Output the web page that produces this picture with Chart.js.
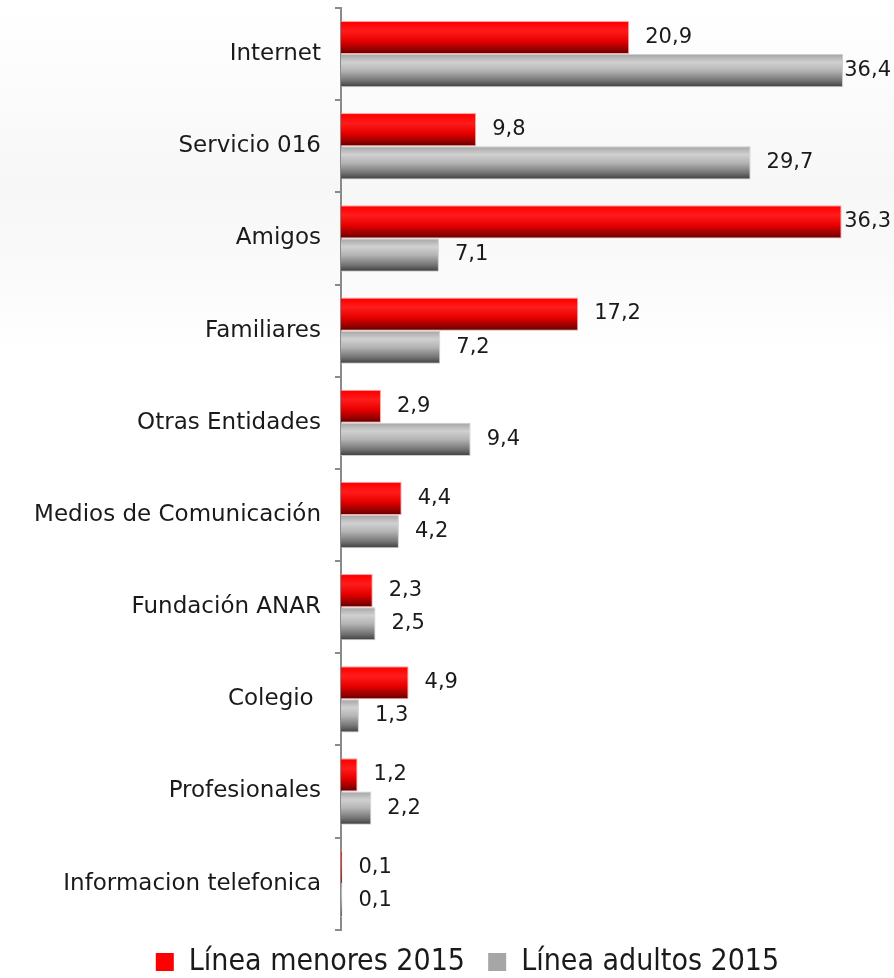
<!DOCTYPE html>
<html><head><meta charset="utf-8">
<script src="https://cdn.jsdelivr.net/npm/chart.js@4/dist/chart.umd.min.js"></script>
<style>html,body{margin:0;padding:0;background:#fff}#wrap{width:894px;height:978px;position:relative}</style>
</head><body><div id="wrap"><canvas id="c" width="894" height="978"></canvas></div>
<script>
const categories = ["Internet","Servicio 016","Amigos","Familiares","Otras Entidades","Medios de Comunicación","Fundación ANAR","Colegio ","Profesionales","Informacion telefonica"];
const menores2015 = [20.9, 9.8, 36.3, 17.2, 2.9, 4.4, 2.3, 4.9, 1.2, 0.1];
const adultos2015 = [36.4, 29.7, 7.1, 7.2, 9.4, 4.2, 2.5, 1.3, 2.2, 0.1];
const seriesNames = ["Línea menores 2015  ","Línea adultos 2015"];
const FONT = "'DejaVu Sans', sans-serif";
const LEGEND_FONT = "'DejaVu Sans Condensed', 'DejaVu Sans', sans-serif";

const bgPlugin = {
  id:'bg',
  beforeDraw(chart){
    const ctx = chart.ctx;
    const g = ctx.createLinearGradient(0,0,0,chart.height);
    g.addColorStop(0,'#ffffff');
    g.addColorStop(0.08,'#fcfcfc');
    g.addColorStop(0.19,'#f7f7f7');
    g.addColorStop(0.30,'#fbfbfb');
    g.addColorStop(0.36,'#ffffff');
    g.addColorStop(1,'#ffffff');
    ctx.save(); ctx.fillStyle = g; ctx.fillRect(0,0,chart.width,chart.height); ctx.restore();
  }
};
const legendShift = {
  id:'legendShift',
  afterLayout(chart){
    const lg = chart.legend;
    if (!lg) return;
    lg.left += 46; lg.right += 46;
    lg.top += 9; lg.bottom += 9;
  }
};
const gradPlugin = {
  id:'grad',
  beforeDatasetsDraw(chart){
    const ctx = chart.ctx;
    chart.data.datasets.forEach((ds,di)=>{
      const meta = chart.getDatasetMeta(di);
      meta.data.forEach(el=>{
        const top = el.y - el.height/2, bot = el.y + el.height/2;
        const g = ctx.createLinearGradient(0,top,0,bot);
        if(di===0){
          g.addColorStop(0,'#ff6060'); g.addColorStop(0.05,'#ff0000'); g.addColorStop(0.3,'#ff1c1c');
          g.addColorStop(0.6,'#e80000'); g.addColorStop(0.85,'#980000'); g.addColorStop(1,'#5a0000');
        } else {
          g.addColorStop(0,'#a4a4a4'); g.addColorStop(0.25,'#d0d0d0'); g.addColorStop(0.5,'#b4b4b4');
          g.addColorStop(0.8,'#747474'); g.addColorStop(1,'#3c3c3c');
        }
        el.options = Object.assign({}, el.options, {backgroundColor:g});
      });
    });
  }
};
const labelPlugin = {
  id:'vlabels',
  afterDatasetsDraw(chart){
    const ctx = chart.ctx;
    ctx.save();
    ctx.font = "21px " + FONT;
    ctx.fillStyle = '#1a1a1a';
    ctx.textBaseline = 'middle';
    ctx.textAlign = 'left';
    chart.data.datasets.forEach((ds,di)=>{
      chart.getDatasetMeta(di).data.forEach((el,i)=>{
        const txt = ds.data[i].toFixed(1).replace('.',',');
        const w = ctx.measureText(txt).width;
        let x = el.x + 16;
        if (x + w > chart.width - 3) x = chart.width - 3 - w;
        ctx.fillText(txt, x, el.y);
      });
    });
    ctx.restore();
  }
};

new Chart(document.getElementById('c'),{
  type:'bar',
  data:{
    labels:categories,
    datasets:[
      {label:seriesNames[0], data:menores2015, backgroundColor:'#ff0000', borderColor:'rgba(255,140,140,0.8)', borderWidth:1, borderSkipped:'start'},
      {label:seriesNames[1], data:adultos2015, backgroundColor:'#a6a6a6', borderColor:'rgba(200,200,200,0.9)', borderWidth:1, borderSkipped:'start'}
    ]
  },
  options:{
    indexAxis:'y',
    responsive:false,
    animation:false,
    devicePixelRatio:1,
    layout:{padding:{top:8,right:51,left:0,bottom:0}},
    datasets:{bar:{categoryPercentage:0.72, barPercentage:1.0}},
    scales:{
      x:{display:false, min:0, max:36.4},
      y:{
        afterFit(scale){ scale.width = 341; scale.paddingTop = 0; scale.paddingBottom = 0; },
        grid:{drawOnChartArea:false, drawTicks:true, tickLength:6, color:'#8a8a8a', lineWidth:2, offset:true},
        border:{display:true, color:'#8a8a8a', width:2},
        ticks:{color:'#1a1a1a', font:{family:FONT, size:23}, padding:14}
      }
    },
    plugins:{
      legend:{position:'bottom',
        title:{display:true, text:' ', font:{size:1}, padding:{top:1,bottom:0}},
        labels:{color:'#1a1a1a', font:{family:LEGEND_FONT, size:30}, boxWidth:18, boxHeight:18, padding:6,
        generateLabels(chart){
          return chart.data.datasets.map((d,i)=>({text:d.label, fillStyle:i===0?'#ff0000':'#a6a6a6', strokeStyle:'transparent', lineWidth:0, datasetIndex:i, fontColor:'#1a1a1a'}));
        }}},
      tooltip:{enabled:false}
    }
  },
  plugins:[bgPlugin, legendShift, gradPlugin, labelPlugin]
});
</script></body></html>
